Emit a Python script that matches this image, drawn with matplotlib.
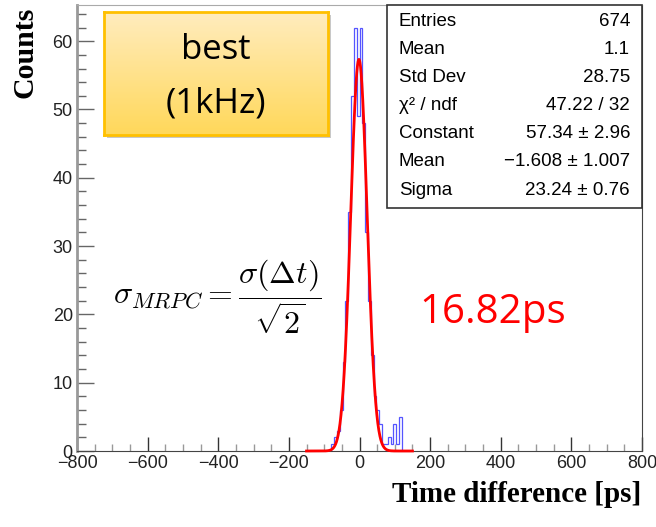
import numpy as np
import matplotlib
matplotlib.use("Agg")
import matplotlib.pyplot as plt
from matplotlib.ticker import MultipleLocator

# Datos del histograma (bins de 8 ps, solo la zona con cuentas)
bin_width = 8
first_edge = -80
counts = [1, 2, 3, 6, 13, 22, 35, 52, 62, 49, 62, 48, 32,
          22, 14, 8, 6, 4, 1, 1, 2, 1, 4, 1, 5]

# Parámetros del ajuste gaussiano
fit_constant = 57.34
fit_mean = -1.608
fit_sigma = 23.24
fit_range = (-150, 150)

# Caja de estadísticas
stat_names = ["Entries", "Mean", "Std Dev", "χ² / ndf", "Constant", "Mean", "Sigma"]
stat_values = ["674", "1.1", "28.75", "47.22 / 32", "57.34 ± 2.96",
               "−1.608 ± 1.007", "23.24 ± 0.76"]

plt.rcParams["mathtext.fontset"] = "cm"
sans = "Liberation Sans"

W, H = 656, 527
fig = plt.figure(figsize=(W / 100, H / 100), dpi=100)
ax = fig.add_axes([77 / W, 1 - 451 / H, (642 - 77) / W, (451 - 5) / H])

edges = first_edge + bin_width * np.arange(len(counts) + 1)
ax.stairs(counts, edges, color="#2a2aff", lw=0.9, alpha=0.8, zorder=2)

xf = np.linspace(fit_range[0], fit_range[1], 600)
yf = fit_constant * np.exp(-0.5 * ((xf - fit_mean) / fit_sigma) ** 2)
ax.plot(xf, yf, color="red", lw=2, zorder=3, clip_on=False)

ax.set_xlim(-800, 800)
ax.set_ylim(0, 65.3)
ax.xaxis.set_major_locator(MultipleLocator(200))
ax.xaxis.set_minor_locator(MultipleLocator(50))
ax.yaxis.set_major_locator(MultipleLocator(10))
ax.yaxis.set_minor_locator(MultipleLocator(2))
ax.tick_params(axis="x", which="major", direction="in", length=10, width=1, color="#333333", pad=3)
ax.tick_params(axis="x", which="minor", direction="in", length=5, width=1, color="#999999")
ax.tick_params(axis="y", which="major", direction="in", length=12.5, width=1, color="#666666", pad=3)
ax.tick_params(axis="y", which="minor", direction="in", length=6.5, width=1, color="#666666")
ax.tick_params(labelsize=13, labelcolor="#222222")
ax.set_xticklabels([f"{int(v)}".replace("-", "\u2212") for v in ax.get_xticks()])
ax.set_yticklabels([f"{int(v)}" for v in ax.get_yticks()])
for lab in ax.get_xticklabels() + ax.get_yticklabels():
    lab.set_fontfamily(sans)
ax.spines["left"].set_color("#999999")
ax.spines["left"].set_linewidth(2)
ax.spines["bottom"].set_color("#444444")
ax.spines["top"].set_color("#aaaaaa")
ax.spines["right"].set_color("#444444")

fig.text(25 / W, 1 - 7 / H, "Counts", rotation=90, ha="center", va="top",
         fontsize=21.5, fontfamily="Liberation Serif", fontweight="bold")
fig.text(641 / W, 1 - 495 / H, "Time difference [ps]", ha="right", va="center",
         fontsize=21, fontfamily="Liberation Serif", fontweight="bold")

# Caja de estadísticas
sx0, sy0, sx1, sy1 = 387, 5, 642, 208
stat_box = plt.Rectangle((sx0 / W, 1 - sy1 / H), (sx1 - sx0) / W, (sy1 - sy0) / H,
                         transform=fig.transFigure, facecolor="white",
                         edgecolor="#333333", lw=1.2, zorder=5)
fig.patches.append(stat_box)
for i, (name, val) in enumerate(zip(stat_names, stat_values)):
    y = 1 - (21 + 28.2 * i) / H
    fig.text(399 / W, y, name, ha="left", va="center", fontsize=13.5, fontfamily=sans, zorder=6)
    fig.text(630 / W, y, val, ha="right", va="center", fontsize=13.5, fontfamily=sans, zorder=6)

# Caja amarilla "best (1kHz)"
shadow = plt.Rectangle(((104 + 3) / W, 1 - (135 + 3) / H), 224 / W, 123 / H,
                       transform=fig.transFigure, facecolor="#c8c8c8", edgecolor="none", zorder=6)
fig.patches.append(shadow)
bx = fig.add_axes([104 / W, 1 - 135 / H, 224 / W, 123 / H], zorder=7)
top = np.array([255, 236, 190]) / 255
bot = np.array([255, 216, 90]) / 255
t = np.linspace(0, 1, 100)[:, None, None]
grad = top * (1 - t) + bot * t
bx.imshow(grad, aspect="auto", extent=[0, 1, 0, 1], origin="upper")
bx.set_xticks([])
bx.set_yticks([])
for sp in bx.spines.values():
    sp.set_color("#ffc000")
    sp.set_linewidth(2)
bx.text(0.5, 0.69, "best", ha="center", va="center", fontsize=25, fontfamily="Open Sans")
bx.text(0.5, 0.26, "(1kHz)", ha="center", va="center", fontsize=25, fontfamily="Open Sans")

# Fórmula y resultado
fig.text(217 / W, 1 - 297 / H, r"$\sigma_{MRPC} = \dfrac{\sigma(\Delta t)}{\sqrt{2}}$",
         ha="center", va="center", fontsize=23)
fig.text(493 / W, 1 - 313 / H, "16.82ps", ha="center", va="center",
         fontsize=29, color="red", fontfamily="Open Sans")

fig.savefig("out.png", dpi=100)
